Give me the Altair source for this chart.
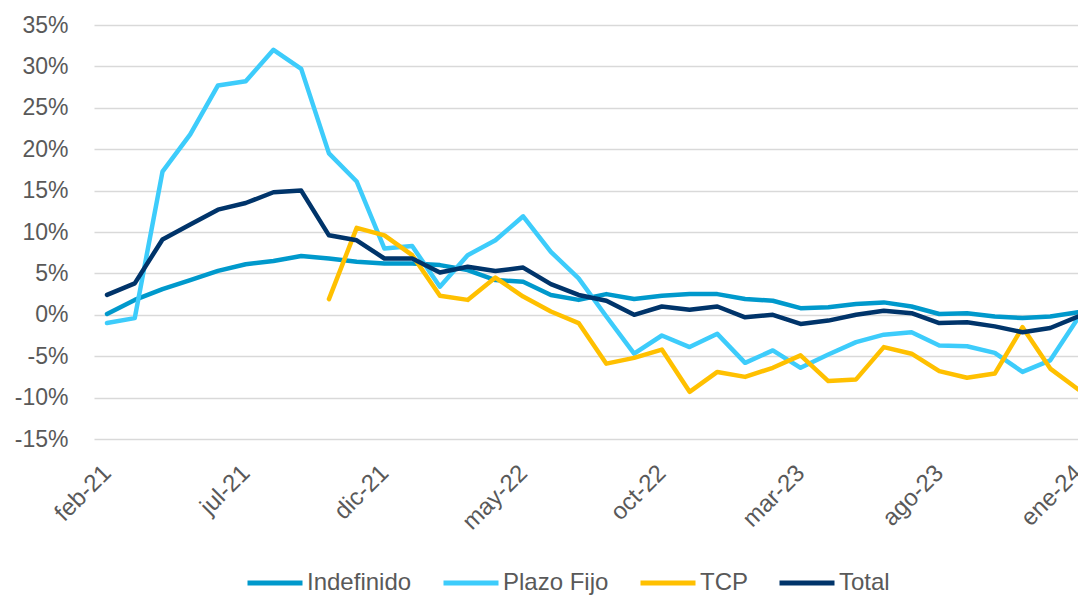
import altair as alt
import pandas as pd

mes = ["ene", "feb", "mar", "abr", "may", "jun", "jul", "ago", "sep", "oct", "nov", "dic"]
months = []
y, m = 21, 1
for _ in range(36):
    months.append(f"{mes[m]}-{y}")
    m += 1
    if m == 12:
        m = 0
        y += 1

indefinido = [0.1, 1.8, 3.1, 4.2, 5.3, 6.1, 6.5, 7.1, 6.8, 6.4, 6.2, 6.2, 6.0, 5.4, 4.2, 4.0,
              2.4, 1.8, 2.5, 1.9, 2.3, 2.5, 2.5, 1.9, 1.7, 0.8, 0.9, 1.3, 1.5, 1.0, 0.1, 0.2,
              -0.2, -0.4, -0.2, 0.3]
plazo_fijo = [-1.0, -0.4, 17.3, 21.8, 27.7, 28.2, 32.0, 29.7, 19.5, 16.1, 8.0, 8.3, 3.4, 7.2,
              9.0, 11.9, 7.6, 4.4, -0.2, -4.7, -2.5, -3.9, -2.3, -5.8, -4.3, -6.4, -4.8, -3.3,
              -2.4, -2.1, -3.7, -3.8, -4.6, -6.9, -5.5, -0.4]
tcp = [None] * 8 + [1.9, 10.5, 9.6, 7.2, 2.3, 1.8, 4.5, 2.2, 0.4, -1.0, -5.9, -5.2, -4.2, -9.3,
                    -6.9, -7.5, -6.4, -4.9, -8.0, -7.8, -3.9, -4.7, -6.8, -7.6, -7.1, -1.5, -6.5, -9.0]
total = [2.4, 3.8, 9.1, 10.9, 12.7, 13.5, 14.8, 15.0, 9.6, 9.0, 6.8, 6.8, 5.1, 5.8, 5.3, 5.7,
         3.7, 2.4, 1.7, 0.0, 1.0, 0.6, 1.0, -0.3, 0.0, -1.1, -0.7, 0.0, 0.5, 0.2, -1.0, -0.9,
         -1.4, -2.1, -1.6, -0.2]

series_names = ["Indefinido", "Plazo Fijo", "TCP", "Total"]
series_vals = [indefinido, plazo_fijo, tcp, total]
colors = ["#0099CC", "#3DCCFB", "#FFC000", "#00346A"]

rows = []
for k, (name, vals) in enumerate(zip(series_names, series_vals)):
    for i, v in enumerate(vals):
        if v is not None:
            rows.append({"idx": i, "serie": name, "valor": v, "ord": k})
df = pd.DataFrame(rows)

labels_js = "[" + ",".join(f"'{s}'" for s in months) + "]"
FONT = "Liberation Sans"
GREY = "#595959"

chart = alt.Chart(df).mark_line(strokeWidth=4.5, strokeCap="round", strokeJoin="round").encode(
    x=alt.X("idx:Q",
            scale=alt.Scale(domain=[-0.469, 35], nice=False, zero=False),
            axis=alt.Axis(values=list(range(0, 36, 5)), labelExpr=f"{labels_js}[datum.value]",
                          labelAngle=-45, labelAlign="right", labelBaseline="middle",
                          labelPadding=30, ticks=False, domain=False, grid=False,
                          labelFont=FONT, labelFontSize=24, labelColor=GREY, title=None)),
    y=alt.Y("valor:Q",
            scale=alt.Scale(domain=[-15, 35], nice=False),
            axis=alt.Axis(values=list(range(-15, 40, 5)), labelExpr="datum.value + '%'",
                          ticks=False, domain=False, gridColor="#D9D9D9", gridWidth=1.5,
                          labelPadding=26, labelFont=FONT, labelFontSize=23, labelColor=GREY,
                          title=None)),
    color=alt.Color("serie:N",
                    scale=alt.Scale(domain=series_names, range=colors),
                    legend=alt.Legend(orient="none", legendX=151, legendY=528, direction="horizontal",
                                      title=None, symbolType="stroke", symbolSize=3025,
                                      symbolStrokeWidth=5, labelFont=FONT, labelFontSize=24,
                                      labelColor=GREY, labelOffset=2, columnPadding=21)),
    order=alt.Order("ord:Q"),
).properties(
    width=984, height=414,
    autosize=alt.AutoSizeParams(type="none"),
    padding={"left": 86, "top": 17, "right": 0, "bottom": 156},
).configure_view(stroke=None)

chart.save("out.html", embed_options={"renderer": "svg", "actions": False})
